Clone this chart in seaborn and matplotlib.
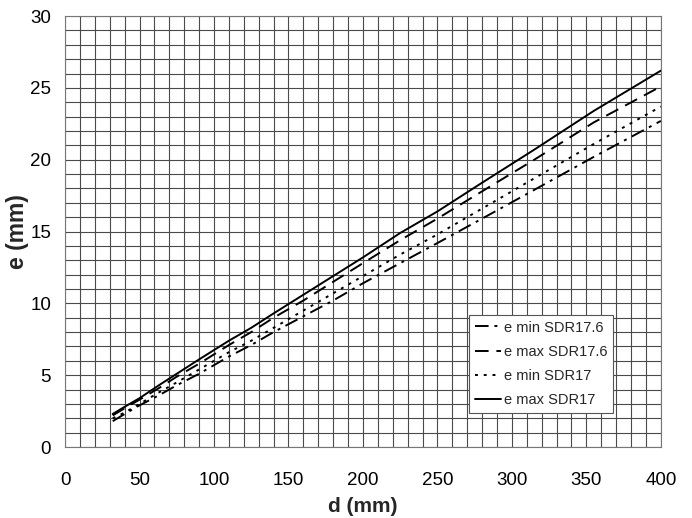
import pandas as pd
import matplotlib
matplotlib.use('Agg')
import matplotlib.pyplot as plt
import seaborn as sns

# plot setting
sns.set_style('white')
plt.rcParams['font.family'] = ['Liberation Sans', 'DejaVu Sans']

# --- data (PE pipe wall thickness) ---
d = [32, 40, 50, 63, 75, 90, 110, 125, 140, 160, 180, 200, 225, 250, 280, 315, 355, 400]
e_min_sdr176 = [1.8, 2.3, 2.9, 3.6, 4.3, 5.1, 6.3, 7.1, 8.0, 9.1, 10.2, 11.4, 12.8, 14.2, 15.9, 17.9, 20.2, 22.7]
e_max_sdr176 = [2.2, 2.7, 3.3, 4.1, 4.9, 5.8, 7.1, 8.0, 9.0, 10.2, 11.5, 12.8, 14.4, 15.9, 17.8, 20.0, 22.6, 25.1]
e_min_sdr17 = [2.0, 2.4, 3.0, 3.8, 4.5, 5.4, 6.6, 7.4, 8.3, 9.5, 10.7, 11.9, 13.4, 14.8, 16.6, 18.7, 21.1, 23.7]
e_max_sdr17 = [2.3, 2.8, 3.4, 4.3, 5.1, 6.1, 7.4, 8.3, 9.3, 10.6, 11.9, 13.2, 14.9, 16.4, 18.4, 20.7, 23.4, 26.2]

series = {
    'e min SDR17.6': e_min_sdr176,
    'e max SDR17.6': e_max_sdr176,
    'e min SDR17': e_min_sdr17,
    'e max SDR17': e_max_sdr17,
}
df = pd.concat([pd.DataFrame({'d': d, 'e': v, 'serie': k}) for k, v in series.items()])

dashes = {
    'e min SDR17.6': (7, 3, 1.5, 3),
    'e max SDR17.6': (7, 4),
    'e min SDR17': (1.5, 3),
    'e max SDR17': '',
}
palette = {k: 'black' for k in series}

fig = plt.figure(figsize=(6.92, 5.18), dpi=100)
ax = fig.add_axes([0.094, 0.137, 0.861, 0.832])

# grid first
for x in range(0, 401, 10):
    ax.axvline(x, color='#4a4a4a', linewidth=0.8, zorder=0)
for y in range(0, 31):
    ax.axhline(y, color='#4a4a4a', linewidth=0.8, zorder=0)

sns.lineplot(data=df, x='d', y='e', hue='serie', style='serie', dashes=dashes,
             palette=palette, linewidth=1.4, ax=ax, zorder=3)

ax.set_xlim(0, 400)
ax.set_ylim(0, 30)
ax.set_xticks(range(0, 401, 50))
ax.set_yticks(range(0, 31, 5))
ax.tick_params(axis='x', direction='out', length=5, width=0.8, colors='#666666',
               labelcolor='black', labelsize=13.5, pad=13)
ax.tick_params(axis='y', direction='out', length=5, width=0.8, colors='#666666',
               labelcolor='black', labelsize=13.5, pad=5)
for s in ax.spines.values():
    s.set_color('#777777')
    s.set_linewidth(0.8)

ax.set_xlabel('d (mm)', fontsize=15, fontweight='bold', labelpad=6)
ax.set_ylabel('e (mm)', fontsize=16.5, fontweight='bold', labelpad=1)

leg = ax.legend(loc='lower left', bbox_to_anchor=(0.678, 0.079), borderaxespad=0,
                fontsize=10.5, frameon=True, fancybox=False, framealpha=1,
                edgecolor='#555555', handlelength=1.8, handletextpad=0.2,
                borderpad=0.4, labelspacing=0.7)
leg.get_frame().set_linewidth(0.8)

plt.savefig('out.png', dpi=100)
plt.close()
